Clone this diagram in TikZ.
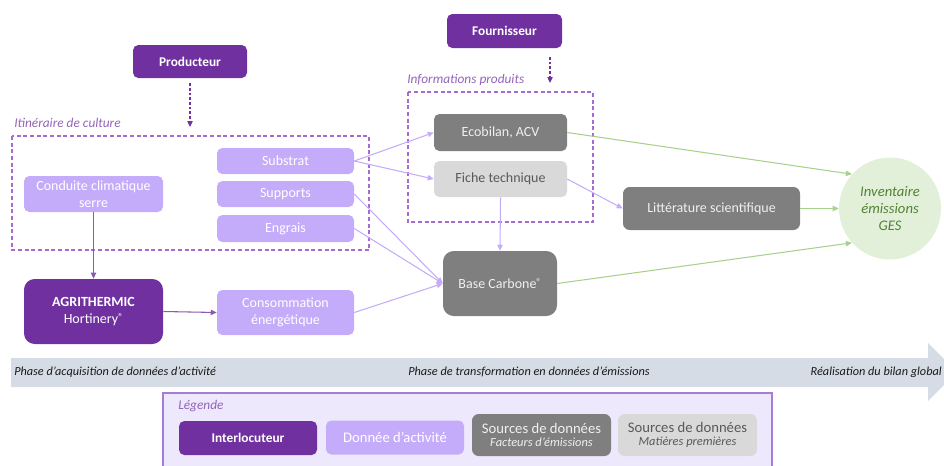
\documentclass[tikz,border=0pt]{standalone}
\usepackage{fontspec}
\setmainfont{Carlito}
\usetikzlibrary{arrows.meta}

\definecolor{violetfonce}{HTML}{7030A0}
\definecolor{violetclair}{HTML}{C4ACFA}
\definecolor{grisfonce}{HTML}{7F7F7F}
\definecolor{grisclair}{HTML}{D9D9D9}
\definecolor{vertclair}{HTML}{E2F0D9}
\definecolor{vertfleche}{HTML}{A9D18E}
\definecolor{verttexte}{HTML}{548235}
\definecolor{bandephase}{HTML}{D6DCE5}
\definecolor{fondlegende}{HTML}{EEE8FD}
\definecolor{bordlegende}{HTML}{A77BD6}
\definecolor{pointille}{HTML}{A66BD3}

\newcommand{\pxl}{0.75pt}
\newcommand{\marque}{\raisebox{0.5ex}{\fontsize{7.5}{8}\selectfont ®}}

\tikzset{
  taille/.style 2 args={minimum width=#1*\pxl, minimum height=#2*\pxl},
  boite/.style={inner sep=0pt, align=center, rounded corners=4pt},
  interlocuteur/.style={boite, fill=violetfonce, text=white, font=\fontsize{10}{12.6}\selectfont\bfseries},
  donnee/.style={boite, fill=violetclair, text=white},
  facteur/.style={boite, fill=grisfonce, text=gray!12},
  matiere/.style={boite, fill=grisclair, text=black!65},
  cadre/.style={pointille, line width=1pt, dash pattern=on 3pt off 2pt},
  titrecadre/.style={anchor=west, inner sep=0pt, text=violetfonce!75, font=\fontsize{10}{12}\selectfont\itshape},
  fleche/.style={->, violetclair, line width=0.8pt},
  flechefonce/.style={->, violetfonce!80, line width=0.8pt},
  flechevert/.style={->, vertfleche, line width=0.8pt},
  flechepoint/.style={->, violetfonce, line width=0.9pt, dash pattern=on 2pt off 1.5pt},
  phase/.style={inner sep=0pt, text=black!90, font=\fontsize{9.2}{11}\selectfont\itshape},
  legende/.style={font=\fontsize{11}{12.6}\selectfont},
}

\begin{document}
\begin{tikzpicture}[x=0.75pt, y=-0.75pt, >={Triangle[length=4.5pt,width=4pt]},
    font=\fontsize{10.5}{12.6}\selectfont]
  \useasboundingbox (0,0) rectangle (944,465);

  % Bande des phases
  \fill[bandephase] (11,358) -- (928,358) -- (928,343) -- (957,372) -- (928,401)
    -- (928,387) -- (11,387) -- cycle;
  \node[phase, anchor=west] (phaseacq) at (14,372) {Phase d’acquisition de données d’activité};
  \node[phase, anchor=west] (phasetrans) at (408,372) {Phase de transformation en données d’émissions};
  \node[phase, anchor=east] (phasebilan) at (942,372) {Réalisation du bilan global};

  % Cadres pointillés
  \draw[cadre] (12,136) rectangle (369,250);
  \draw[cadre] (408,92) rectangle (593,222);
  \node[titrecadre] (titreitin) at (14,123) {Itinéraire de culture};
  \node[titrecadre] (titreinfo) at (407,80) {Informations produits};

  % Interlocuteurs
  \node[interlocuteur, taille={114}{33}] (prod) at (190,61.5) {Producteur};
  \node[interlocuteur, taille={115}{34}] (four) at (504.5,31) {Fournisseur};
  \node[interlocuteur, taille={139}{65}, rounded corners=8pt, font=\fontsize{10.5}{12.6}\selectfont] (agri) at (93.5,311.5)
    {\textbf{AGRITHERMIC}\\Hortinery\marque};

  % Données d'activité
  \node[donnee, taille={137}{26}] (substrat) at (285.5,161) {Substrat};
  \node[donnee, taille={137}{26}] (supports) at (285.5,194) {Supports};
  \node[donnee, taille={137}{27}] (engrais) at (285.5,228.5) {Engrais};
  \node[donnee, taille={139}{36}] (conduite) at (93.5,194) {Conduite climatique\\serre};
  \node[donnee, taille={137}{45}] (conso) at (285.5,312.5) {Consommation\\énergétique};

  % Sources de données
  \node[facteur, taille={133}{37}] (ecobilan) at (500.5,132.5) {Ecobilan, ACV};
  \node[matiere, taille={133}{36}] (fiche) at (500.5,179) {Fiche technique};
  \node[facteur, taille={114}{65}, rounded corners=8pt] (base) at (500,283.5)
    {Base Carbone\marque};
  \node[facteur, taille={177}{43}, rounded corners=5pt] (litt) at (711.5,208.5) {Littérature scientifique};
  \node[circle, fill=vertclair, minimum size=102*\pxl, inner sep=0pt, align=center,
    text=verttexte, font=\fontsize{11}{12.8}\selectfont\itshape] (inv) at (890,208.5)
    {Inventaire\\émissions\\GES};

  % Flèches pointillées
  \coordinate (entreeitin) at (190,127);
  \coordinate (departfour) at (550,57);
  \coordinate (entreeinfo) at (550,83);
  \draw[flechepoint, shorten <=5*\pxl] (prod.south) -- (entreeitin);
  \draw[flechepoint] (departfour) -- (entreeinfo);

  % Flèches violettes
  \draw[fleche] (substrat.east) -- (ecobilan.west);
  \draw[fleche] (substrat.east) -- (fiche.west);
  \draw[fleche] (supports.east) -- (base.west);
  \draw[fleche] (engrais.east) -- (base.west);
  \draw[fleche] (conso.east) -- (base.west);
  \draw[fleche] (fiche.south) -- (base.north);
  \draw[fleche] (fiche.east) -- (litt.west);
  \draw[flechefonce] (conduite.south) -- (agri.north);
  \draw[flechefonce] (agri.east) -- (conso.west);

  % Flèches vertes
  \draw[flechevert] (ecobilan.east) -- (inv.138);
  \draw[flechevert] (litt.east) -- (inv.west);
  \draw[flechevert] (base.east) -- (inv.222);

  % Légende
  \draw[bordlegende, fill=fondlegende, line width=0.9pt] (163,393) rectangle (772,470);
  \node[titrecadre] (titreleg) at (178,406) {Légende};
  \node[interlocuteur, taille={138}{34}] (leginter) at (248,438) {Interlocuteur};
  \node[donnee, legende, taille={138}{34}] (legdonnee) at (395,437.5) {Donnée d’activité};
  \node[facteur, legende, taille={139}{42}, rounded corners=5pt] (legfacteur) at (541.5,435)
    {Sources de données\\[-2.5pt]{\fontsize{9.3}{10}\selectfont\itshape Facteurs d’émissions}};
  \node[matiere, legende, taille={139}{42}, rounded corners=5pt] (legmatiere) at (687.5,435)
    {Sources de données\\[-2.5pt]{\fontsize{9.3}{10}\selectfont\itshape Matières premières}};
\end{tikzpicture}
\end{document}
